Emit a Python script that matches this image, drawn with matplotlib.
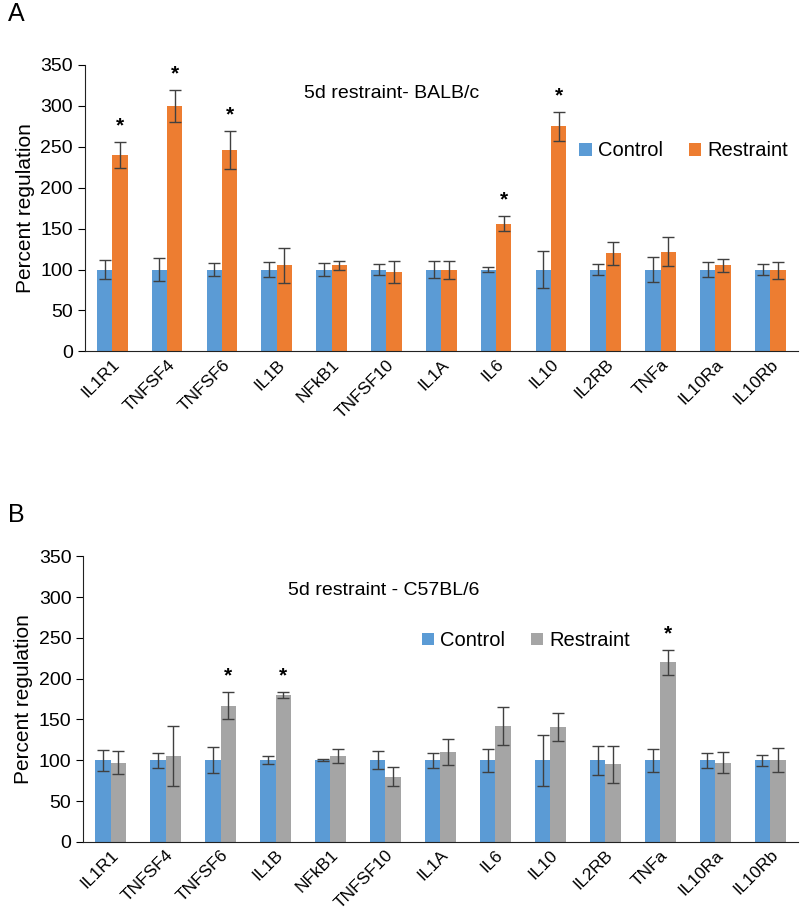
import numpy as np
import matplotlib.pyplot as plt

plt.rcParams['font.family'] = ['Liberation Sans', 'DejaVu Sans']

genes = ['IL1R1', 'TNFSF4', 'TNFSF6', 'IL1B', 'NFkB1', 'TNFSF10', 'IL1A',
         'IL6', 'IL10', 'IL2RB', 'TNFa', 'IL10Ra', 'IL10Rb']

# panel A - BALB/c
ctrl_a = [100, 100, 100, 100, 100, 100, 100, 100, 100, 100, 100, 100, 100]
ctrl_a_err = [12, 14, 8, 9, 8, 7, 10, 3, 23, 7, 15, 9, 7]
rest_a = [240, 300, 246, 105, 105, 97, 100, 156, 275, 120, 122, 105, 99]
rest_a_err = [16, 20, 23, 21, 6, 14, 11, 9, 18, 14, 18, 8, 10]
star_a = ['IL1R1', 'TNFSF4', 'TNFSF6', 'IL6', 'IL10']

# panel B - C57BL/6
ctrl_b = [100, 100, 100, 100, 100, 100, 100, 100, 100, 100, 100, 100, 100]
ctrl_b_err = [13, 9, 16, 5, 1, 11, 9, 14, 31, 18, 14, 9, 7]
rest_b = [97, 105, 167, 180, 105, 80, 110, 142, 141, 95, 220, 97, 100]
rest_b_err = [14, 37, 17, 4, 9, 12, 16, 23, 17, 23, 15, 13, 15]
star_b = ['TNFSF6', 'IL1B', 'TNFa']

blue = '#5B9BD5'
orange = '#ED7D31'
gray = '#A5A5A5'

fig = plt.figure(figsize=(8, 9.15), dpi=100)
ax1 = fig.add_axes([0.106, 0.616, 0.891, 0.313])
ax2 = fig.add_axes([0.104, 0.080, 0.893, 0.312])

x = np.arange(len(genes))
w = 0.28


def draw(ax, ctrl, cerr, rest, rerr, rcol, stars, title, title_xy, leg_anchor):
    ekw = dict(ecolor='#404040', elinewidth=1, capsize=4, capthick=1)
    ax.bar(x - w/2, ctrl, w, yerr=cerr, color=blue, label='Control', error_kw=ekw)
    ax.bar(x + w/2, rest, w, yerr=rerr, color=rcol, label='Restraint', error_kw=ekw)
    for g in stars:
        i = genes.index(g)
        ax.text(i + w/2, rest[i] + rerr[i] + 8, '*', ha='center', va='bottom',
                fontsize=15, fontweight='bold')
    ax.set_xlim(-0.5, len(genes) - 0.5)
    ax.set_ylim(0, 350)
    ax.set_yticks(range(0, 351, 50))
    ax.set_xticks(x)
    ax.set_xticklabels(genes, rotation=45, ha='right', rotation_mode='anchor',
                       fontsize=12.5)
    ax.tick_params(axis='x', length=0, pad=4)
    ax.tick_params(axis='y', labelsize=14, length=5, direction='out')
    for s in ['top', 'right']:
        ax.spines[s].set_visible(False)
    ax.spines['left'].set_color('#222222')
    ax.spines['bottom'].set_color('#222222')
    ax.set_ylabel('Percent regulation', fontsize=15)
    ax.text(title_xy[0], title_xy[1], title, transform=ax.transAxes,
            fontsize=14, ha='center', va='center')
    ax.legend(loc='center', bbox_to_anchor=leg_anchor, ncol=2, frameon=False,
              fontsize=14.5, handlelength=0.6, handleheight=0.6,
              handletextpad=0.3, columnspacing=1.3)


draw(ax1, ctrl_a, ctrl_a_err, rest_a, rest_a_err, orange, star_a,
     '5d restraint- BALB/c', (0.43, 0.90), (0.84, 0.70))
draw(ax2, ctrl_b, ctrl_b_err, rest_b, rest_b_err, gray, star_b,
     '5d restraint - C57BL/6', (0.42, 0.88), (0.62, 0.705))

fig.text(0.01, 0.985, 'A', fontsize=18, va='center')
fig.text(0.01, 0.437, 'B', fontsize=18, va='center')

fig.savefig('out.png', dpi=100)
